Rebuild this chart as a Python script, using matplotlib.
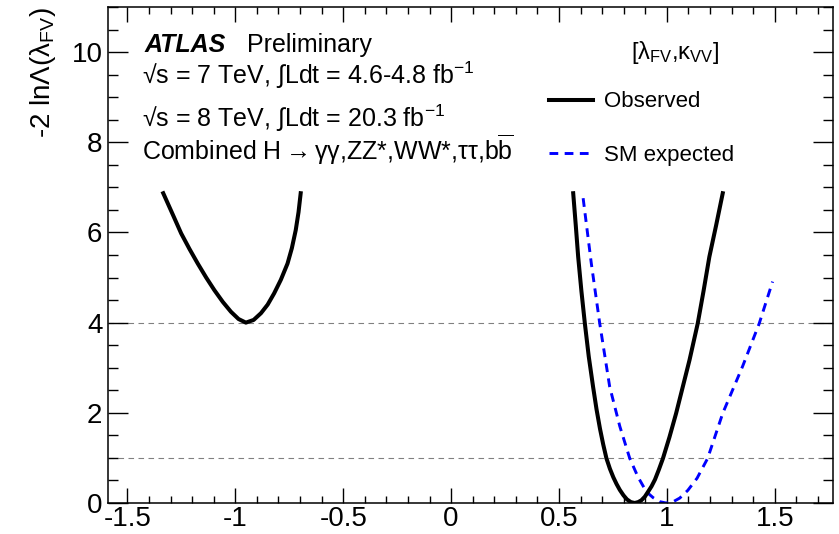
import matplotlib
matplotlib.use("Agg")
import matplotlib.pyplot as plt
from matplotlib.lines import Line2D

plt.rcParams.update({
    "font.family": ["Liberation Sans", "DejaVu Sans"],
    "mathtext.fontset": "custom",
    "mathtext.rm": "Liberation Sans",
    "mathtext.it": "Liberation Sans",
    "mathtext.bf": "Liberation Sans:bold",
})

# observed scan, low branch (lambda_FV < 0)
obs_neg_x = [-1.334, -1.290, -1.251, -1.212, -1.174, -1.135, -1.097, -1.058, -1.020,
             -0.985, -0.951, -0.915, -0.881, -0.850, -0.820, -0.789, -0.758, -0.738,
             -0.720, -0.707, -0.697]
obs_neg_y = [6.87, 6.40, 5.98, 5.63, 5.31, 5.00, 4.72, 4.46, 4.24,
             4.08, 4.00, 4.06, 4.21, 4.40, 4.65, 4.95, 5.31, 5.65,
             6.05, 6.45, 6.87]

# observed scan, high branch (lambda_FV > 0)
obs_pos_x = [0.566, 0.578, 0.589, 0.604, 0.620, 0.638, 0.658, 0.674, 0.690, 0.705,
             0.720, 0.736, 0.752, 0.767, 0.782, 0.799, 0.815, 0.833, 0.851, 0.867,
             0.882, 0.898, 0.913, 0.929, 0.945, 0.963, 0.982, 1.012, 1.043, 1.074,
             1.105, 1.143, 1.170, 1.197, 1.228, 1.259]
obs_pos_y = [6.87, 6.15, 5.46, 4.70, 3.98, 3.25, 2.58, 2.08, 1.65, 1.30,
             0.99, 0.76, 0.57, 0.42, 0.29, 0.17, 0.08, 0.02, 0.00, 0.02,
             0.06, 0.14, 0.25, 0.37, 0.52, 0.74, 0.99, 1.46, 1.99, 2.58,
             3.17, 3.98, 4.70, 5.46, 6.15, 6.87]

# SM expected
exp_x = [0.612, 0.650, 0.689, 0.735, 0.782, 0.828, 0.866, 0.905, 0.936, 0.966,
         0.997, 1.030, 1.060, 1.097, 1.140, 1.189, 1.259, 1.351, 1.428, 1.490]
exp_y = [6.76, 5.31, 3.98, 2.58, 1.70, 0.99, 0.58, 0.25, 0.12, 0.03,
         0.00, 0.03, 0.11, 0.28, 0.55, 0.99, 1.99, 3.03, 3.98, 4.91]

ref_levels = [1, 4]
x_ticks = [-1.5, -1, -0.5, 0, 0.5, 1, 1.5]
x_tick_labels = ["-1.5", "-1", "-0.5", "0", "0.5", "1", "1.5"]
y_ticks = [0, 2, 4, 6, 8, 10]

W, H = 839, 534
fig = plt.figure(figsize=(W / 100, H / 100), dpi=100)
ax = fig.add_axes([108 / W, 31 / H, 725 / W, 496 / H])

for lev in ref_levels:
    ax.axhline(lev, color="#808080", lw=0.8, ls=(0, (5, 4)), zorder=1)

ax.plot(obs_neg_x, obs_neg_y, color="black", lw=2.9, zorder=3,
        solid_joinstyle="round")
ax.plot(obs_pos_x, obs_pos_y, color="black", lw=2.9, zorder=3,
        solid_joinstyle="round")
ax.plot(exp_x, exp_y, color="#0000ff", lw=2.1, ls=(0, (3, 2.2)), zorder=2)

ax.set_xlim(-1.59, 1.77)
ax.set_ylim(0, 11)
ax.set_xticks(x_ticks)
ax.set_xticklabels(x_tick_labels)
ax.set_yticks(y_ticks)
ax.xaxis.set_minor_locator(plt.MultipleLocator(0.1))
ax.yaxis.set_minor_locator(plt.MultipleLocator(0.5))
ax.tick_params(which="both", direction="in", top=True, right=True,
               labelsize=20, width=1.0)
ax.tick_params(axis="x", which="major", length=10.5, pad=2)
ax.tick_params(axis="x", which="minor", length=5.2)
ax.tick_params(axis="y", which="major", length=14.4, pad=4)
ax.tick_params(axis="y", which="minor", length=7.2)
for s in ax.spines.values():
    s.set_linewidth(1.1)

ax.set_ylabel(r"-2 ln$\Lambda$($\lambda_{\mathrm{FV}}$)", fontsize=20, loc="top",
              labelpad=10)


def px(x, y):
    return x / W, 1 - y / H


# ATLAS label block
fig.text(*px(145, 52), "ATLAS", fontsize=18, fontweight="bold",
         fontstyle="italic", va="baseline")
fig.text(*px(247, 52), "Preliminary", fontsize=18, va="baseline")
fig.text(*px(142, 84), r"√s = 7 TeV, ∫Ldt = 4.6-4.8 fb$^{-1}$",
         fontsize=18, va="baseline")
fig.text(*px(142, 127), r"√s = 8 TeV, ∫Ldt = 20.3 fb$^{-1}$",
         fontsize=18, va="baseline")
fig.text(*px(142, 160),
         r"Combined H$\rightarrow$γγ,ZZ*,WW*,ττ,b$\overline{\mathrm{b}}$",
         fontsize=18, va="baseline")

# legend
fig.text(*px(675, 53), r"[$\lambda_{\mathrm{FV}}$,$\kappa_{\mathrm{VV}}$]",
         fontsize=17, ha="center", va="center")
handles = [Line2D([], [], color="black", lw=2.9),
           Line2D([], [], color="#0000ff", lw=2.1, ls=(0, (3, 2.2)))]
ax.legend(handles, ["Observed", "SM expected"], loc="upper left",
          bbox_to_anchor=((553 - 108) / 725 - 0.012, 1 - (87 - 7) / 496),
          frameon=False, fontsize=16, handlelength=2.0, handletextpad=0.5,
          labelspacing=1.45, borderpad=0.2, borderaxespad=0)

fig.savefig("out.png", dpi=100)
